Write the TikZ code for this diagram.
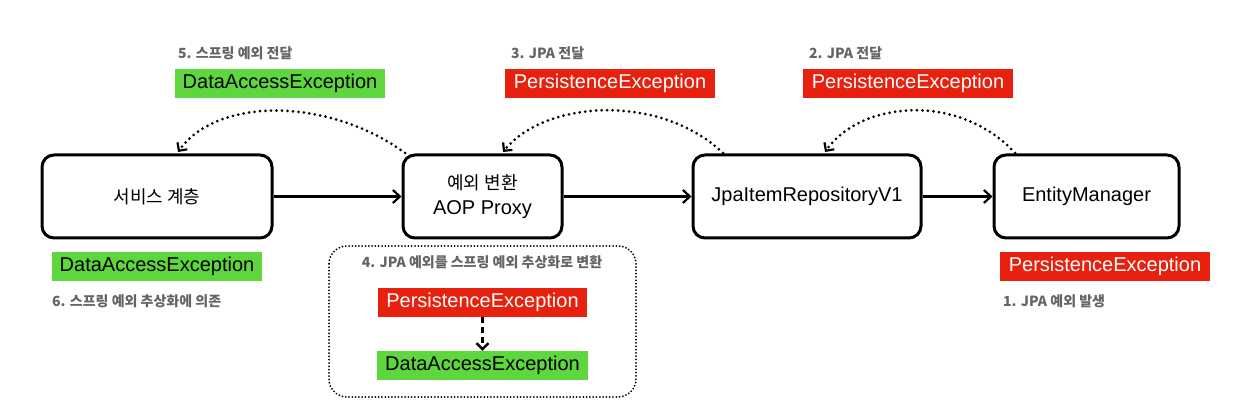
\documentclass[tikz,border=0pt]{standalone}
\usepackage{fontspec}
\setmainfont{Liberation Sans}
\newfontfamily\kr{Noto Sans CJK KR}
\usetikzlibrary{arrows.meta,calc}
\definecolor{exgreen}{RGB}{94,214,62}
\definecolor{exred}{RGB}{232,32,14}
\definecolor{labgray}{RGB}{100,100,100}
\tikzset{
  compbox/.style={draw=black, line width=3pt, rounded corners=12pt, align=center, inner sep=0pt,
    font=\fontsize{20}{25}\selectfont},
  flowarr/.style={line width=2.2pt, -{Straight Barb[length=7pt,width=13pt,line width=2.2pt]}},
  backarr/.style={line width=3pt, line cap=round, dash pattern=on 0pt off 5.5pt,
    -{Straight Barb[length=6pt,width=12pt,line width=2.2pt]}},
  greenex/.style={fill=exgreen, text=black, minimum width=210pt, minimum height=29pt, inner sep=0pt,
    font=\fontsize{20}{24}\selectfont},
  redex/.style={fill=exred, text=white, minimum width=210pt, minimum height=29pt, inner sep=0pt,
    font=\fontsize{20}{24}\selectfont},
  steplabel/.style={text=labgray, inner sep=0pt, font=\kr\bfseries\fontsize{14}{17}\selectfont},
}
\begin{document}
\begin{tikzpicture}[x=1pt,y=-1pt]
\useasboundingbox (0,0) rectangle (1248,406);

% main components
\node[compbox, minimum width=230pt, minimum height=83pt] (S) at (157,196.5) {{\kr\fontsize{18}{22}\selectfont 서비스 계층}};
\node[compbox, minimum width=159pt, minimum height=83pt] (A) at (482.5,196.5) {{\kr\fontsize{18}{22}\selectfont 예외 변환}\\AOP Proxy};
\node[compbox, minimum width=228pt, minimum height=83pt] (J) at (807,196.5) {JpaItemRepositoryV1};
\node[compbox, minimum width=185pt, minimum height=83pt] (E) at (1086.5,196.5) {EntityManager};

\draw[flowarr] (S.east) -- (A.west);
\draw[flowarr] (A.east) -- (J.west);
\draw[flowarr] (J.east) -- (E.west);

% backward propagation curves
\coordinate (c1s) at (405,153);
\coordinate (c1e) at (178,152);
\coordinate (c2s) at (723,153);
\coordinate (c2e) at (503,152);
\coordinate (c3s) at (1015,153);
\coordinate (c3e) at (825,152);
\draw[backarr] (c1s) .. controls (330,98) and (218,96) .. (c1e);
\draw[backarr] (c2s) .. controls (660,93) and (545,100) .. (c2e);
\draw[backarr] (c3s) .. controls (960,93) and (862,100) .. (c3e);

% top labels
\node[steplabel, anchor=west] (l5) at (178,53) {5. 스프링 예외 전달};
\node[greenex] (g5) at (280,83.5) {DataAccessException};
\node[steplabel, anchor=west] (l3) at (511,53) {3. JPA 전달};
\node[redex] (r3) at (610,83.5) {PersistenceException};
\node[steplabel, anchor=west] (l2) at (809,53) {2. JPA 전달};
\node[redex] (r2) at (908,83.5) {PersistenceException};

% bottom left
\node[greenex] (g6) at (157,266.5) {DataAccessException};
\node[steplabel, anchor=west] (l6) at (52,301) {6. 스프링 예외 추상화에 의존};

% bottom right
\node[redex] (r1) at (1105,266.5) {PersistenceException};
\node[steplabel, anchor=west] (l1) at (1003,301) {1. JPA 예외 발생};

% conversion frame
\draw[line width=2pt, line cap=round, dash pattern=on 0pt off 3.3pt, rounded corners=18pt]
  (329,246) rectangle (636,397);
\node[steplabel] (l4) at (482,262) {4. JPA 예외를 스프링 예외 추상화로 변환};
\node[redex, minimum width=209pt] (ri) at (482.5,302.5) {PersistenceException};
\node[greenex, minimum width=211pt] (gi) at (482.5,365.5) {DataAccessException};
\draw[line width=3pt, dash pattern=on 6pt off 4pt, -{Straight Barb[length=6pt,width=12pt,line width=2.4pt]}]
  (ri.south) -- (gi.north);
\end{tikzpicture}
\end{document}
